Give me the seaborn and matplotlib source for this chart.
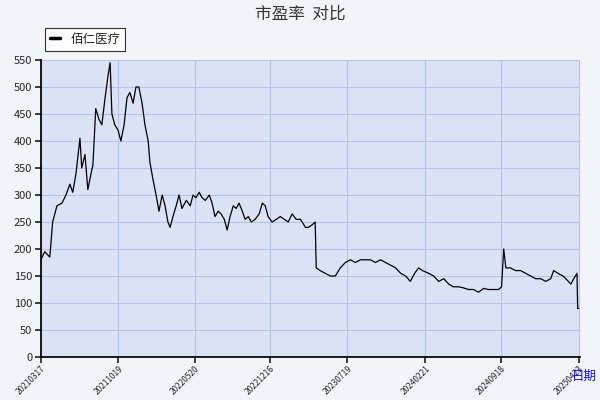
import matplotlib
matplotlib.use("Agg")
import matplotlib.pyplot as plt
import seaborn as sns
import pandas as pd

start = "2021-03-17"
day_offsets = [0,11,25,33,45,59,70,81,89,98,103,109,114,123,131,140,145,153,162,170,179,187,193,198,206,215,223,232,240,248,257,265,273,282,290,299,304,312,321,329,338,346,354,360,368,377,385,393,405,416,424,432,441,449,458,469,477,485,494,502,511,519,527,536,544,552,561,569,578,586,597,608,617,625,633,644,656,667,678,689,700,711,723,737,745,756,764,767,778,792,806,820,834,848,862,876,890,904,918,932,946,960,974,988,1002,1016,1029,1041,1052,1063,1080,1094,1108,1122,1136,1149,1163,1177,1191,1205,1219,1233,1247,1261,1275,1283,1289,1295,1308,1322,1336,1350,1364,1378,1392,1406,1420,1428,1440,1454,1462,1476,1484,1493,1495,1498]
pe_values = [180,195,185,250,280,285,300,320,305,340,370,405,350,375,310,340,355,460,440,430,480,520,545,450,430,420,400,430,480,490,470,500,500,470,430,400,360,330,300,270,300,280,250,240,260,280,300,275,290,280,300,295,305,295,290,300,285,260,270,265,255,235,260,280,275,285,270,255,260,250,255,265,285,280,260,250,255,260,255,250,265,255,255,240,240,245,250,165,160,155,150,150,165,175,180,175,180,180,180,175,180,175,170,165,155,150,140,155,165,160,155,150,140,145,135,130,130,128,125,125,120,127,125,125,125,130,200,165,165,160,160,155,150,145,145,140,145,160,155,150,145,135,145,155,90,90]
series_name = "佰仁医疗"
tick_labels = ["20210317","20211019","20220520","20221216","20230719","20240221","20240918","20250423"]

dates = pd.to_datetime(start) + pd.to_timedelta(day_offsets, unit="D")
df = pd.DataFrame({"date": dates, "pe": pe_values})

sns.set_theme(style="white")
plt.rcParams['font.family'] = ['Noto Sans CJK SC', 'DejaVu Sans']

fig = plt.figure(figsize=(6, 4), dpi=100, facecolor="#f2f3fb")
ax = fig.add_axes([0.068, 0.1075, 0.899, 0.7425])
ax.set_facecolor("#dbe2f6")
sns.lineplot(data=df, x="date", y="pe", ax=ax, color="black", linewidth=0.9, label=series_name)

ax.set_ylim(0, 550)
ax.set_yticks(range(0, 551, 50))
ax.set_xlim(pd.to_datetime(start), dates[-1] + pd.Timedelta(days=4))
tks = pd.to_datetime(tick_labels, format="%Y%m%d")
ax.set_xticks(tks)
ax.set_xticklabels(tick_labels, rotation=45, ha="right", rotation_mode="anchor", fontsize=6)
ax.tick_params(axis="y", labelsize=8, length=4, direction="out", left=True, pad=2)
ax.tick_params(axis="x", length=4, direction="out", bottom=True, pad=1)
ax.grid(True, color="#b5c2e6", linewidth=0.8)
for s in ["top", "right"]:
    ax.spines[s].set_visible(False)
ax.spines["left"].set_color("black")
ax.spines["bottom"].set_color("black")
ax.set_xlabel("")
ax.set_ylabel("")

leg = ax.legend(loc="lower left", bbox_to_anchor=(-0.003, 1.01), frameon=True, fancybox=False,
                edgecolor="black", fontsize=9, handlelength=0.8, borderpad=0.4)
leg.get_frame().set_linewidth(0.8)
for line in leg.get_lines():
    line.set_linewidth(2.5)

fig.text(0.5, 0.965, "市盈率  对比", ha="center", va="center", fontsize=12, color="#333333")
fig.text(0.995, 0.06, "日期", ha="right", va="center", fontsize=9, color="#1010cc")

fig.savefig("out.png", dpi=100, facecolor=fig.get_facecolor())
